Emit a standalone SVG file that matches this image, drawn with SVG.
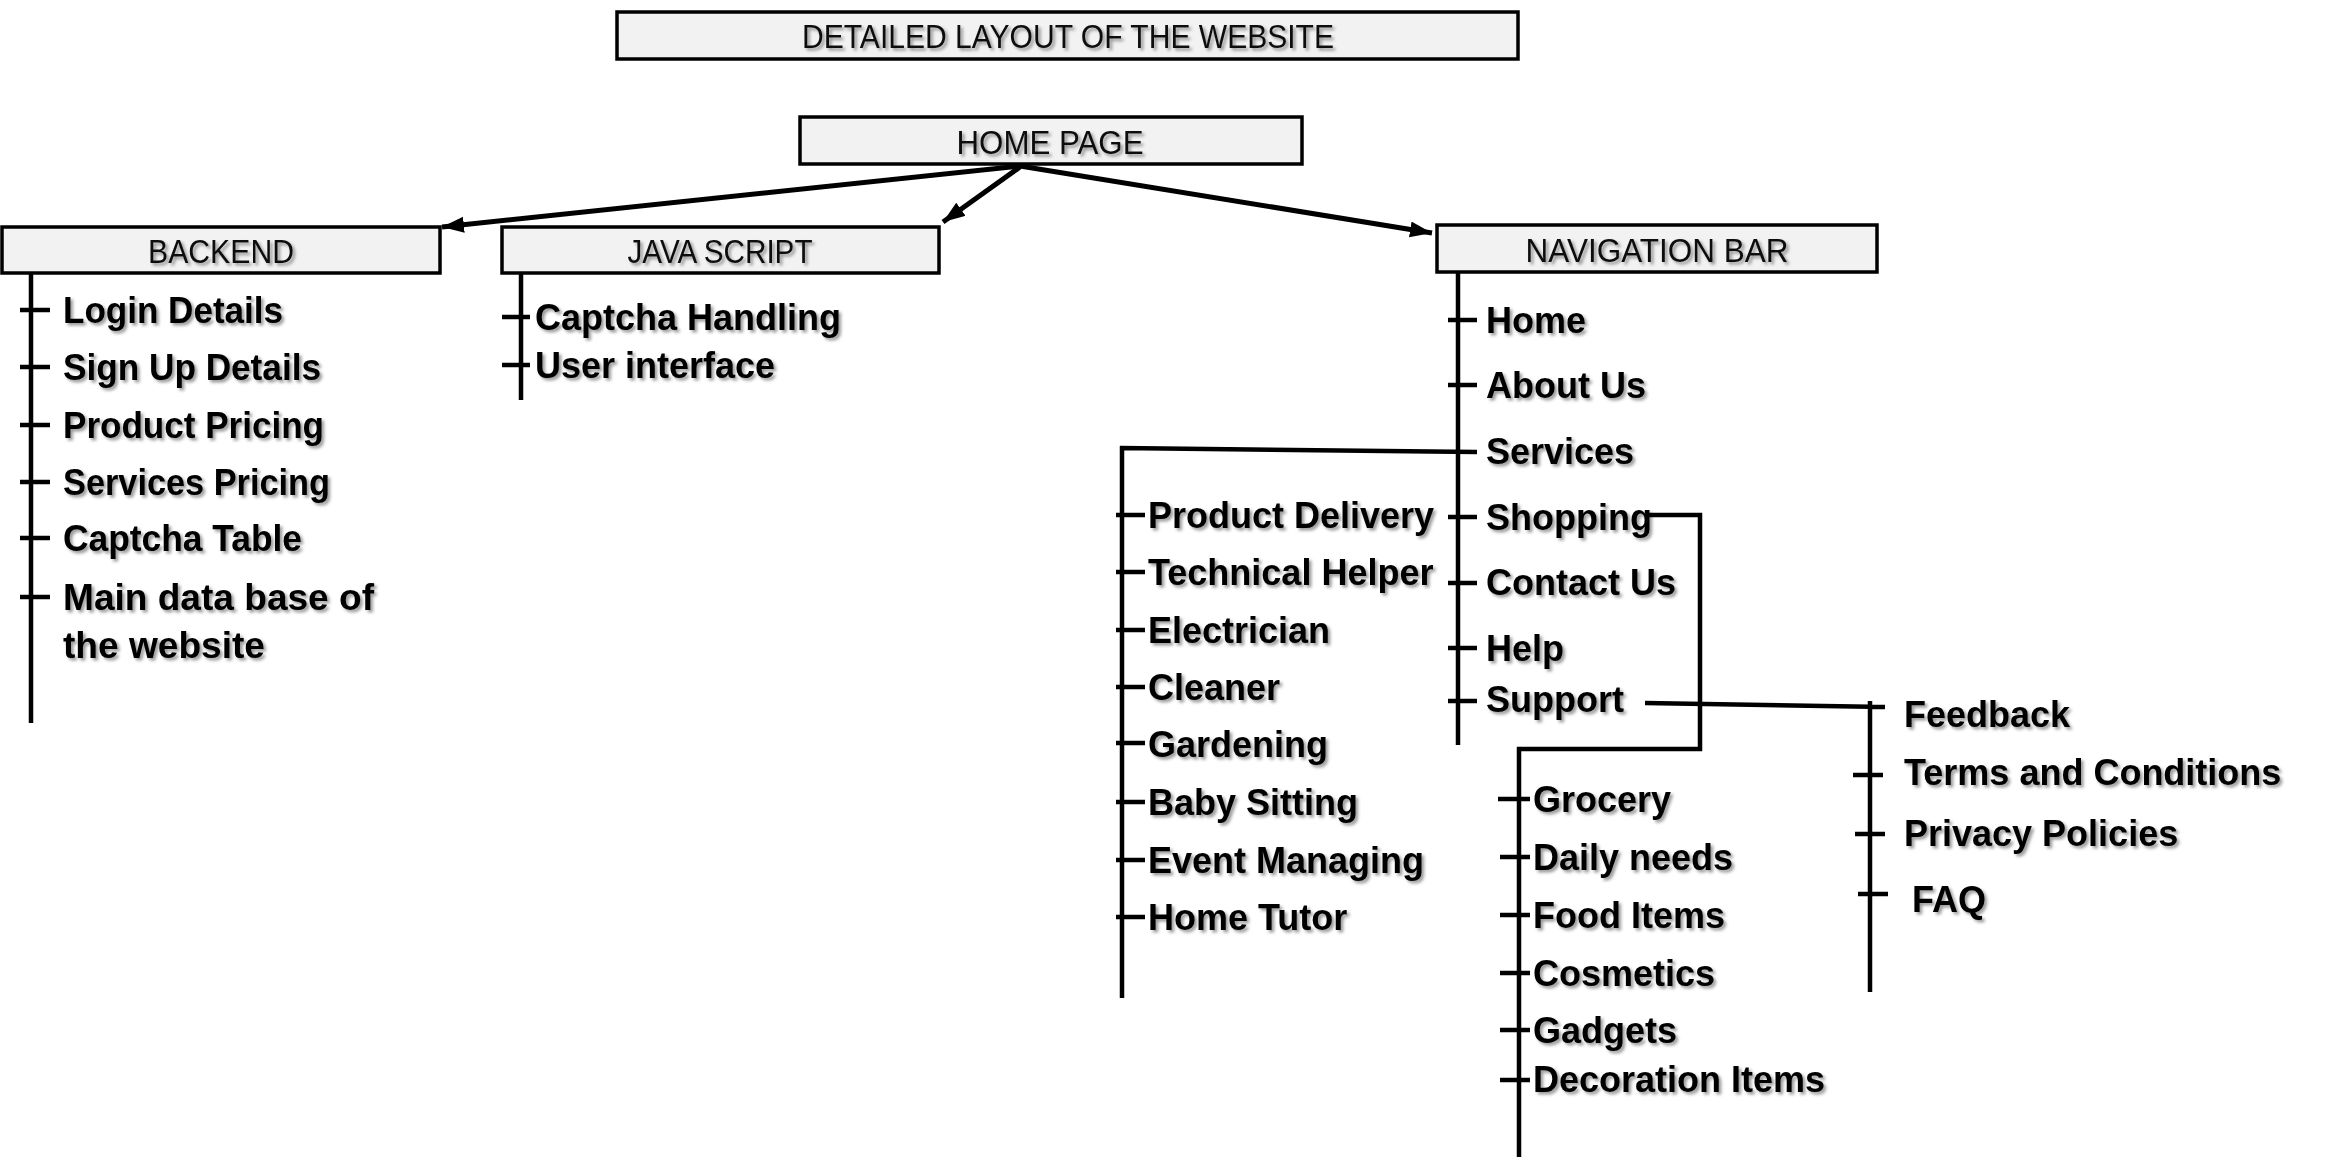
<svg xmlns="http://www.w3.org/2000/svg" width="2342" height="1161" viewBox="0 0 2342 1161">
<defs>
<filter id="sh" x="-5%" y="-30%" width="115%" height="170%">
<feDropShadow dx="2.5" dy="2.5" stdDeviation="1.6" flood-color="#000" flood-opacity="0.4"/>
</filter>
<marker id="ah" markerUnits="userSpaceOnUse" markerWidth="24" markerHeight="18" refX="22" refY="8" orient="auto">
<path d="M0,0 L22,8 L0,16 Z" fill="#000"/>
</marker>
</defs>
<style>
.box{fill:#f2f2f2;stroke:#000;stroke-width:3.5}
.bl{font-family:"Liberation Sans",Arial,sans-serif;font-size:33px;fill:#111;text-anchor:middle;filter:url(#sh)}
.it{font-family:"Liberation Sans",Arial,sans-serif;font-size:36px;font-weight:bold;fill:#000;filter:url(#sh)}
.ln{stroke:#000;stroke-width:4.5;fill:none}
.ar{stroke:#000;stroke-width:5;fill:none;marker-end:url(#ah)}
</style>
<rect width="2342" height="1161" fill="#fff"/>

<g id="title">
<rect class="box" x="617" y="12" width="901" height="47"/>
<text class="bl" x="1068" y="48" textLength="532" lengthAdjust="spacingAndGlyphs">DETAILED LAYOUT OF THE WEBSITE</text>
</g>
<g id="home-page">
<rect class="box" x="800" y="117" width="502" height="47"/>
<text class="bl" x="1050" y="154" textLength="187" lengthAdjust="spacingAndGlyphs">HOME PAGE</text>
</g>
<g id="backend">
<rect class="box" x="2" y="227" width="438" height="46"/>
<text class="bl" x="221" y="263" textLength="146" lengthAdjust="spacingAndGlyphs">BACKEND</text>
<text class="it" x="63" y="323" textLength="220" lengthAdjust="spacingAndGlyphs">Login Details</text>
<text class="it" x="63" y="380" textLength="258" lengthAdjust="spacingAndGlyphs">Sign Up Details</text>
<text class="it" x="63" y="438" textLength="261" lengthAdjust="spacingAndGlyphs">Product Pricing</text>
<text class="it" x="63" y="495" textLength="267" lengthAdjust="spacingAndGlyphs">Services Pricing</text>
<text class="it" x="63" y="551" textLength="239" lengthAdjust="spacingAndGlyphs">Captcha Table</text>
<text class="it" x="63" y="610" textLength="311" lengthAdjust="spacingAndGlyphs">Main data base of</text>
<text class="it" x="63" y="658" textLength="202" lengthAdjust="spacingAndGlyphs">the website</text>
</g>
<g id="java-script">
<rect class="box" x="502" y="227" width="437" height="46"/>
<text class="bl" x="720" y="263" textLength="185" lengthAdjust="spacingAndGlyphs">JAVA SCRIPT</text>
<text class="it" x="535" y="330">Captcha Handling</text>
<text class="it" x="535" y="378">User interface</text>
</g>
<g id="navigation-bar">
<rect class="box" x="1437" y="225" width="440" height="47"/>
<text class="bl" x="1657" y="262" textLength="263" lengthAdjust="spacingAndGlyphs">NAVIGATION BAR</text>
<text class="it" x="1486" y="333">Home</text>
<text class="it" x="1486" y="398">About Us</text>
<text class="it" x="1486" y="464">Services</text>
<text class="it" x="1486" y="530">Shopping</text>
<text class="it" x="1486" y="595">Contact Us</text>
<text class="it" x="1486" y="661">Help</text>
<text class="it" x="1486" y="712">Support</text>
</g>
<g id="services">
<text class="it" x="1148" y="528">Product Delivery</text>
<text class="it" x="1148" y="585">Technical Helper</text>
<text class="it" x="1148" y="643">Electrician</text>
<text class="it" x="1148" y="700">Cleaner</text>
<text class="it" x="1148" y="757">Gardening</text>
<text class="it" x="1148" y="815">Baby Sitting</text>
<text class="it" x="1148" y="873">Event Managing</text>
<text class="it" x="1148" y="930">Home Tutor</text>
</g>
<g id="shopping">
<text class="it" x="1533" y="812">Grocery</text>
<text class="it" x="1533" y="870">Daily needs</text>
<text class="it" x="1533" y="928">Food Items</text>
<text class="it" x="1533" y="986">Cosmetics</text>
<text class="it" x="1533" y="1043">Gadgets</text>
<text class="it" x="1533" y="1092">Decoration Items</text>
</g>
<g id="support">
<text class="it" x="1904" y="727">Feedback</text>
<text class="it" x="1904" y="785">Terms and Conditions</text>
<text class="it" x="1904" y="846">Privacy Policies</text>
<text class="it" x="1912" y="912">FAQ</text>
</g>

<g id="connectors">
<line class="ar" x1="1020" y1="166" x2="442" y2="227"/>
<line class="ar" x1="1020" y1="167" x2="943" y2="222"/>
<line class="ar" x1="1020" y1="166" x2="1432" y2="233"/>

<path class="ln" d="M31,273 V723 M20,310 H50 M20,367 H50 M20,425 H50 M20,482 H50 M20,538 H50 M20,597 H50"/>
<path class="ln" d="M521,273 V400 M502,317 H530 M502,365 H530"/>
<path class="ln" d="M1458,272 V745 M1448,320 H1477 M1448,385 H1477 M1448,517 H1477 M1448,583 H1477 M1448,648 H1477 M1448,701 H1477"/>
<path class="ln" d="M1477,452 L1120,448 M1122,446 V998 M1116,515 H1145 M1116,572 H1145 M1116,630 H1145 M1116,687 H1145 M1116,743 H1145 M1116,802 H1145 M1116,860 H1145 M1116,917 H1145"/>
<path class="ln" d="M1649,515 H1700 V749 H1519 V1157 M1498,799 H1530 M1500,857 H1530 M1500,915 H1530 M1500,973 H1530 M1500,1030 H1530 M1500,1080 H1530"/>
<path class="ln" d="M1645,703 L1885,707 M1870,701 V992 M1853,775 H1883 M1855,834 H1885 M1858,894 H1888"/>
</g>
</svg>
